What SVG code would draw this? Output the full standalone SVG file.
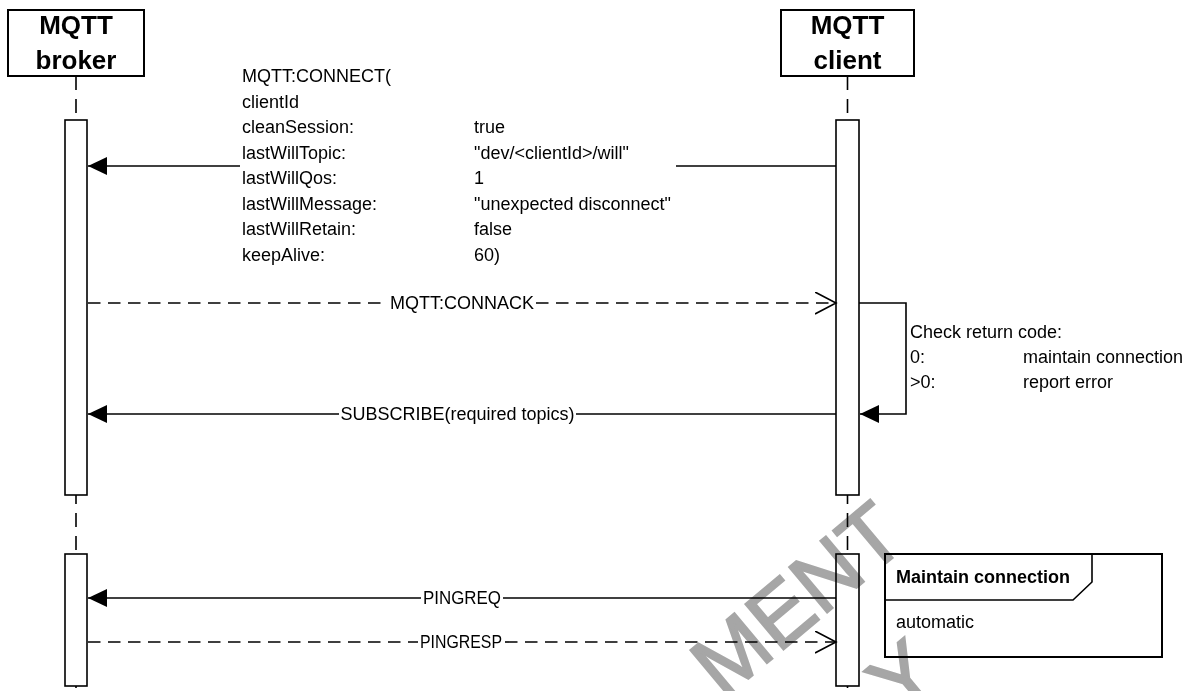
<svg xmlns="http://www.w3.org/2000/svg" width="1204" height="691" viewBox="0 0 1204 691">
<style>
.hd{font-family:"Liberation Sans",Arial,sans-serif;font-weight:bold;font-size:26px;text-anchor:middle;fill:#000}
.t{font-family:"Liberation Sans",Arial,sans-serif;font-size:18px;fill:#000}
.c{text-anchor:middle}
.b{font-weight:bold}
.box{fill:#fff;stroke:#000;stroke-width:2}
.bar{fill:#fff;stroke:#000;stroke-width:1.6}
.life{fill:none;stroke:#000;stroke-width:1.6;stroke-dasharray:14 9}
.msg{fill:none;stroke:#000;stroke-width:1.6}
.dash{stroke-dasharray:12.5 7.5}
.wm{font-family:"Liberation Sans",Arial,sans-serif;font-size:86px;fill:#a6a6a6;stroke:#a6a6a6;stroke-width:2;mix-blend-mode:multiply}
</style>
<defs>
<marker id="fill" markerUnits="userSpaceOnUse" markerWidth="20" markerHeight="20" refX="19" refY="9" orient="auto" viewBox="0 0 20 20">
<path d="M0,0 L19,9 L0,18 z" fill="#000" stroke="none"/>
</marker>
<marker id="open" markerUnits="userSpaceOnUse" markerWidth="24" markerHeight="24" refX="21" refY="11" orient="auto" viewBox="0 0 24 24">
<path d="M0,0 L21,11 L0,22" fill="none" stroke="#000" stroke-width="1.6"/>
</marker>
</defs>
<rect width="1204" height="691" fill="#fff"/>

<g id="broker">
<line class="life" x1="76" y1="76" x2="76" y2="691"/>
<rect class="box" x="8" y="10" width="136" height="66"/>
<text class="hd" x="76" y="34">MQTT</text>
<text class="hd" x="76" y="69">broker</text>
<rect class="bar" x="65" y="120" width="22" height="375"/>
<rect class="bar" x="65" y="554" width="22" height="132"/>
</g>

<g id="client">
<line class="life" x1="847.5" y1="76" x2="847.5" y2="691"/>
<rect class="box" x="781" y="10" width="133" height="66"/>
<text class="hd" x="847.5" y="34">MQTT</text>
<text class="hd" x="847.5" y="69">client</text>
<rect class="bar" x="836" y="120" width="23" height="375"/>
<rect class="bar" x="836" y="554" width="23" height="132"/>
</g>

<g id="connectors">
<path class="msg" d="M836,166 H676"/>
<path class="msg" d="M240,166 H88" marker-end="url(#fill)"/>
<g class="t">
<text x="242" y="82">MQTT:CONNECT(</text>
<text x="242" y="107.5">clientId</text>
<text x="242" y="133">cleanSession:</text>
<text x="242" y="158.5">lastWillTopic:</text>
<text x="242" y="184">lastWillQos:</text>
<text x="242" y="209.5">lastWillMessage:</text>
<text x="242" y="235">lastWillRetain:</text>
<text x="242" y="260.5">keepAlive:</text>
<text x="474" y="133">true</text>
<text x="474" y="158.5">"dev/&lt;clientId&gt;/will"</text>
<text x="474" y="184">1</text>
<text x="474" y="209.5">"unexpected disconnect"</text>
<text x="474" y="235">false</text>
<text x="474" y="260.5">60)</text>
</g>

<path class="msg dash" d="M88,303 H388"/>
<path class="msg dash" d="M536,303 H836" marker-end="url(#open)"/>
<text class="t c" x="462" y="309">MQTT:CONNACK</text>

<path class="msg" d="M859,303 H906 V414 H860" marker-end="url(#fill)"/>
<g class="t">
<text x="910" y="338">Check return code:</text>
<text x="910" y="363">0:</text>
<text x="910" y="388">&gt;0:</text>
<text x="1023" y="363">maintain connection</text>
<text x="1023" y="388">report error</text>
</g>

<path class="msg" d="M836,414 H576"/>
<path class="msg" d="M339,414 H88" marker-end="url(#fill)"/>
<text class="t c" x="457.5" y="420">SUBSCRIBE(required topics)</text>

<path class="msg" d="M836,598 H503"/>
<path class="msg" d="M421,598 H88" marker-end="url(#fill)"/>
<text class="t" x="423" y="604" textLength="78" lengthAdjust="spacingAndGlyphs">PINGREQ</text>

<path class="msg dash" d="M88,642 H418"/>
<path class="msg dash" d="M505,642 H836" marker-end="url(#open)"/>
<text class="t" x="420" y="648" textLength="82" lengthAdjust="spacingAndGlyphs">PINGRESP</text>
</g>

<g id="frame-maintain">
<rect class="box" x="885" y="554" width="277" height="103" fill="none"/>
<path class="msg" stroke-width="2" d="M885,600 H1073 L1092,582 V554"/>
<text class="t b" x="896" y="583">Maintain connection</text>
<text class="t" x="896" y="628">automatic</text>
</g>

<g id="watermark">
<text class="wm" transform="translate(723,700) rotate(-40)">MENT</text>
<text class="wm" transform="translate(900,718) rotate(-40)">Y</text>
</g>
</svg>
